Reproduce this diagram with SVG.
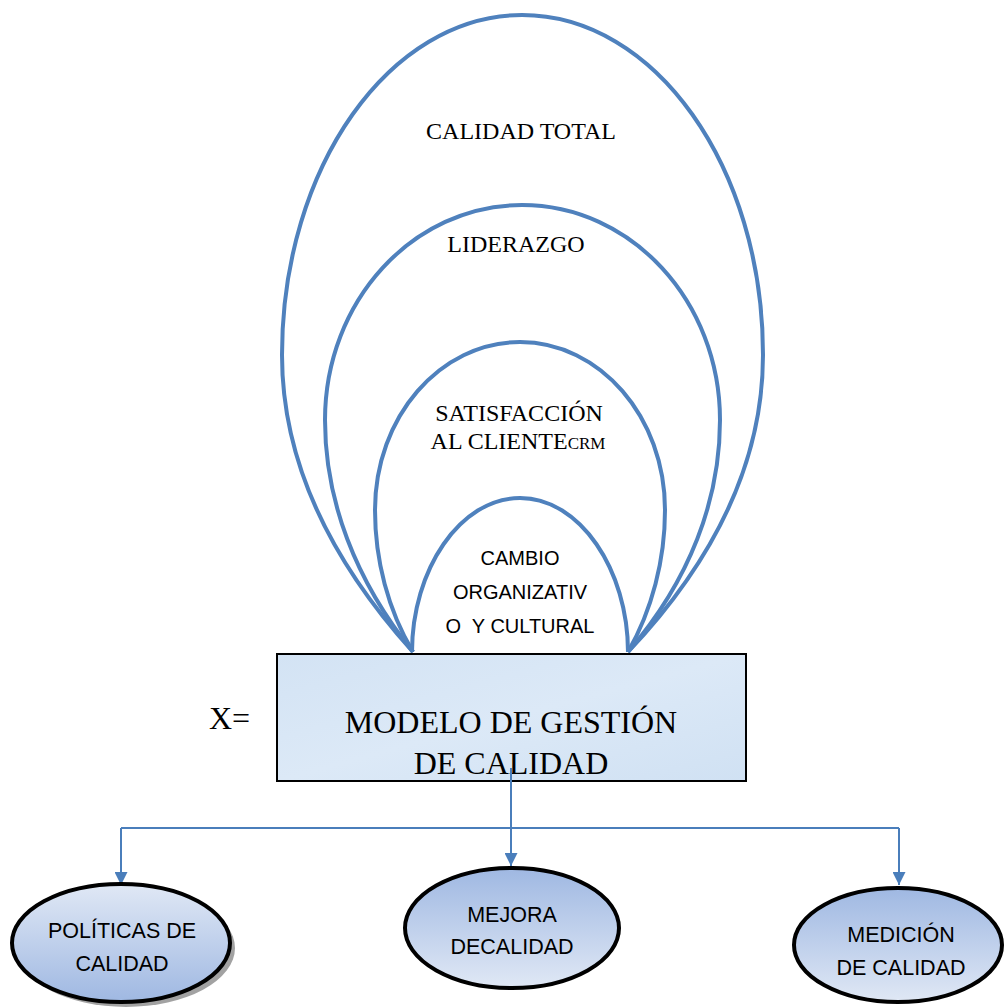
<svg xmlns="http://www.w3.org/2000/svg" width="1004" height="1007" viewBox="0 0 1004 1007">
  <style>
    .arc { fill: none; stroke: #4F81BD; stroke-width: 4; }
    .serif { font-family: "Liberation Serif", "Times New Roman", serif; fill: #000; }
    .sans { font-family: "Liberation Sans", Arial, sans-serif; fill: #000; }
    .conn { fill: none; stroke: #4A7EBB; stroke-width: 2; }
    .oval { stroke: #000; stroke-width: 4; }
  </style>
  <defs>
    <marker id="arrow" viewBox="0 0 10 10" refX="10" refY="5" markerWidth="13" markerHeight="13" orient="auto" markerUnits="userSpaceOnUse">
      <path d="M0,0 L10,5 L0,10 z" fill="#4A7EBB"/>
    </marker>
    <linearGradient id="ovalDown" x1="0" y1="0" x2="0" y2="1">
      <stop offset="0" stop-color="#E0E8F5"/>
      <stop offset="1" stop-color="#9FB8E2"/>
    </linearGradient>
    <linearGradient id="ovalUp" x1="0" y1="0" x2="0" y2="1">
      <stop offset="0" stop-color="#9FB8E2"/>
      <stop offset="1" stop-color="#E0E8F5"/>
    </linearGradient>
    <linearGradient id="boxFill" x1="0" y1="0" x2="1" y2="1">
      <stop offset="0" stop-color="#D3E3F4"/>
      <stop offset="0.5" stop-color="#DCE9F7"/>
      <stop offset="1" stop-color="#D0E1F3"/>
    </linearGradient>
  </defs>

  <!-- nested loops rising out of the model box -->
  <g id="calidad-total">
    <path class="arc" d="M413,652 C330,560 282,460 282,355 C282,167 390,15 522,15 C655,15 763,167 763,355 C763,460 715,560 628,652"/>
    <text class="serif" x="521" y="139" font-size="24" text-anchor="middle">CALIDAD TOTAL</text>
  </g>
  <g id="liderazgo">
    <path class="arc" d="M413,652 C355,580 325,500 325,420 C325,301 413,205 522,205 C631,205 720,301 720,420 C720,500 690,580 628,652"/>
    <text class="serif" x="516" y="252" font-size="24" text-anchor="middle">LIDERAZGO</text>
  </g>
  <g id="satisfaccion">
    <path class="arc" d="M413,652 C388,610 375,560 375,510 C375,417 440,342 520,342 C600,342 665,417 665,510 C665,560 652,610 628,652"/>
    <text class="serif" x="519" y="421" font-size="24" text-anchor="middle">SATISFACCIÓN</text>
    <text class="serif" x="518" y="449" font-size="24" text-anchor="middle">AL CLIENTE<tspan font-size="17">CRM</tspan></text>
  </g>
  <g id="cambio">
    <path class="arc" d="M412,652 C412,570 460,498 520,498 C580,498 628,570 628,652"/>
    <text class="sans" x="520" y="565" font-size="20" text-anchor="middle">CAMBIO</text>
    <text class="sans" x="520" y="599" font-size="20" text-anchor="middle">ORGANIZATIV</text>
    <text class="sans" x="520" y="633" font-size="20" text-anchor="middle" xml:space="preserve">O  Y CULTURAL</text>
  </g>

  <!-- label left of the model box -->
  <text class="serif" x="209" y="729" font-size="32">X=</text>

  <g id="modelo">
    <rect x="277" y="654" width="469" height="127" fill="url(#boxFill)" stroke="#000" stroke-width="2"/>
    <text class="serif" x="511" y="733" font-size="32" text-anchor="middle">MODELO DE GESTIÓN</text>
    <text class="serif" x="511" y="774" font-size="32" text-anchor="middle">DE CALIDAD</text>
  </g>

  <!-- connectors -->
  <g id="connectors">
    <path class="conn" d="M511,768 V866" marker-end="url(#arrow)"/>
    <path class="conn" d="M121,828 H899"/>
    <path class="conn" d="M121,828 V885" marker-end="url(#arrow)"/>
    <path class="conn" d="M899,828 V885" marker-end="url(#arrow)"/>
  </g>

  <g id="politicas">
    <ellipse cx="126" cy="948" rx="109" ry="59" fill="#555" opacity="0.55"/>
    <ellipse class="oval" cx="121" cy="943" rx="109" ry="59" fill="url(#ovalDown)"/>
    <text class="sans" x="122" y="938" font-size="21.5" text-anchor="middle">POLÍTICAS DE</text>
    <text class="sans" x="122" y="971" font-size="21.5" text-anchor="middle">CALIDAD</text>
  </g>
  <g id="mejora">
    <ellipse class="oval" cx="512" cy="928" rx="107" ry="60" fill="url(#ovalUp)"/>
    <text class="sans" x="512" y="922" font-size="21.5" text-anchor="middle">MEJORA</text>
    <text class="sans" x="512" y="954" font-size="21.5" text-anchor="middle">DECALIDAD</text>
  </g>
  <g id="medicion">
    <ellipse class="oval" cx="898" cy="945" rx="104" ry="57" fill="url(#ovalUp)"/>
    <text class="sans" x="901" y="942" font-size="21.5" text-anchor="middle">MEDICIÓN</text>
    <text class="sans" x="901" y="975" font-size="21.5" text-anchor="middle">DE CALIDAD</text>
  </g>
</svg>
